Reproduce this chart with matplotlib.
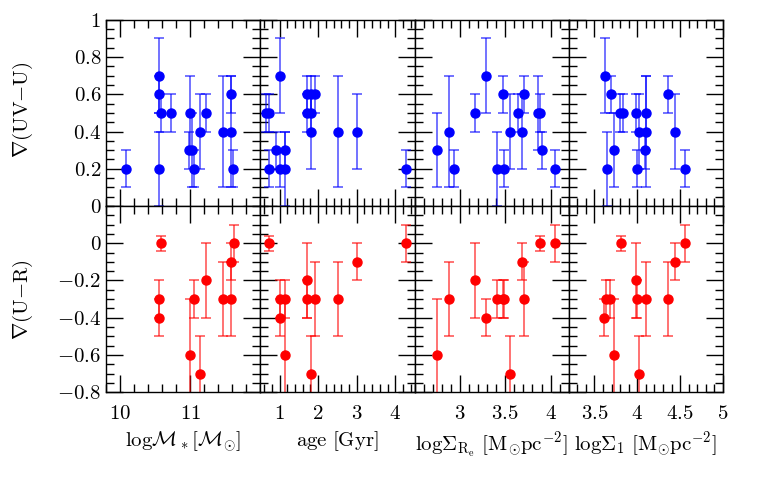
import matplotlib

matplotlib.use("Agg")
import matplotlib.pyplot as plt
from matplotlib.ticker import FixedLocator, FuncFormatter, MultipleLocator

plt.rcParams["font.family"] = "cmr10"
plt.rcParams["mathtext.fontset"] = "cm"
plt.rcParams["axes.unicode_minus"] = False

# log stellar mass panel
mass_uv = [10.09, 10.56, 10.56, 10.58, 10.56, 10.73, 11.0, 10.98, 11.02, 11.05, 11.14, 11.23, 11.47, 11.58, 11.58, 11.61]
mass_uv_grad = [0.2, 0.7, 0.6, 0.5, 0.2, 0.5, 0.5, 0.3, 0.3, 0.2, 0.4, 0.5, 0.4, 0.6, 0.4, 0.2]
mass_uv_err = [0.1, 0.2, 0.1, 0.1, 0.2, 0.1, 0.2, 0.1, 0.2, 0.1, 0.2, 0.1, 0.3, 0.1, 0.3, 0.1]
mass_ur = [10.58, 10.56, 10.56, 11.0, 11.06, 11.14, 11.23, 11.47, 11.58, 11.58, 11.62]
mass_ur_grad = [0.0, -0.3, -0.4, -0.6, -0.3, -0.7, -0.2, -0.3, -0.1, -0.3, 0.0]
mass_ur_err = [0.04, 0.1, 0.1, 0.3, 0.1, 0.2, 0.2, 0.2, 0.1, 0.2, 0.1]

# age panel
age_uv = [0.65, 0.73, 0.73, 0.91, 1.02, 1.02, 1.15, 1.15, 1.71, 1.71, 1.82, 1.82, 1.82, 1.91, 2.52, 3.01, 4.27]
age_uv_grad = [0.5, 0.5, 0.2, 0.3, 0.7, 0.2, 0.3, 0.2, 0.6, 0.5, 0.6, 0.5, 0.4, 0.6, 0.4, 0.4, 0.2]
age_uv_err = [0.1, 0.1, 0.1, 0.1, 0.2, 0.1, 0.1, 0.2, 0.1, 0.1, 0.1, 0.1, 0.2, 0.1, 0.3, 0.2, 0.1]
age_ur = [0.72, 1.02, 1.02, 1.15, 1.15, 1.71, 1.71, 1.82, 1.91, 2.52, 3.01, 4.27]
age_ur_grad = [0.0, -0.3, -0.4, -0.3, -0.6, -0.2, -0.3, -0.7, -0.3, -0.3, -0.1, 0.0]
age_ur_err = [0.04, 0.1, 0.1, 0.1, 0.3, 0.2, 0.1, 0.2, 0.2, 0.2, 0.1, 0.1]

# surface density within Re
sre_uv = [2.75, 2.88, 2.93, 3.17, 3.29, 3.41, 3.47, 3.49, 3.55, 3.64, 3.68, 3.71, 3.86, 3.88, 3.91, 4.05]
sre_uv_grad = [0.3, 0.4, 0.2, 0.5, 0.7, 0.2, 0.6, 0.2, 0.4, 0.5, 0.4, 0.6, 0.5, 0.5, 0.3, 0.2]
sre_uv_err = [0.2, 0.3, 0.1, 0.1, 0.2, 0.2, 0.1, 0.1, 0.2, 0.1, 0.2, 0.1, 0.2, 0.1, 0.1, 0.1]
sre_ur = [2.75, 2.88, 3.17, 3.29, 3.41, 3.47, 3.49, 3.55, 3.68, 3.71, 3.88, 4.05]
sre_ur_grad = [-0.6, -0.3, -0.2, -0.4, -0.3, -0.3, -0.3, -0.7, -0.1, -0.3, 0.0, 0.0]
sre_ur_err = [0.3, 0.2, 0.2, 0.1, 0.1, 0.1, 0.1, 0.2, 0.1, 0.2, 0.04, 0.1]

# surface density within 1 kpc
s1_uv = [3.62, 3.65, 3.69, 3.73, 3.80, 3.83, 3.98, 4.00, 4.02, 4.10, 4.10, 4.09, 4.36, 4.44, 4.56]
s1_uv_grad = [0.7, 0.2, 0.6, 0.3, 0.5, 0.5, 0.5, 0.2, 0.4, 0.5, 0.4, 0.3, 0.6, 0.4, 0.2]
s1_uv_err = [0.2, 0.2, 0.1, 0.2, 0.1, 0.1, 0.1, 0.1, 0.2, 0.2, 0.3, 0.1, 0.1, 0.2, 0.1]
s1_ur = [3.61, 3.64, 3.68, 3.73, 3.81, 3.98, 4.00, 4.02, 4.10, 4.36, 4.44, 4.56]
s1_ur_grad = [-0.4, -0.3, -0.3, -0.6, 0.0, -0.2, -0.3, -0.7, -0.3, -0.3, -0.1, 0.0]
s1_ur_err = [0.1, 0.1, 0.1, 0.3, 0.04, 0.2, 0.1, 0.2, 0.2, 0.2, 0.1, 0.1]

x_labels = [
    r"$\rm log\mathcal{M}_*[\mathcal{M}_{\!\odot}\!]$",
    r"$\rm age\ [Gyr]$",
    r"$\rm log\Sigma_{R_e}\ [M_{\!\odot}\!pc^{-2}]$",
    r"$\rm log\Sigma_1\ [M_{\!\odot}\!pc^{-2}]$",
]
x_limits = [(9.8, 12.0), (0.5, 4.5), (2.5, 4.2), (3.2, 5.0)]
x_major = [[10, 11], [1, 2, 3, 4], [3, 3.5, 4], [3.5, 4, 4.5, 5]]
x_minor = [0.2, 0.2, 0.1, 0.1]

columns = [
    (mass_uv, mass_uv_grad, mass_uv_err, mass_ur, mass_ur_grad, mass_ur_err),
    (age_uv, age_uv_grad, age_uv_err, age_ur, age_ur_grad, age_ur_err),
    (sre_uv, sre_uv_grad, sre_uv_err, sre_ur, sre_ur_grad, sre_ur_err),
    (s1_uv, s1_uv_grad, s1_uv_err, s1_ur, s1_ur_grad, s1_ur_err),
]


def tick_text(value, _pos):
    return f"${value:g}$"


def draw(ax, x, y, err, color):
    ax.errorbar(x, y, yerr=err, fmt="none", ecolor=color, alpha=0.7,
                elinewidth=1.1, capsize=3.8, capthick=1.1)
    ax.plot(x, y, "o", color=color, markersize=6.5, zorder=3)


fig, axes = plt.subplots(2, 4, figsize=(7.63, 4.97), dpi=100)
fig.subplots_adjust(left=0.139, right=0.9476, top=0.960, bottom=0.211, wspace=0, hspace=0)

for col, data in enumerate(columns):
    top_ax, bot_ax = axes[0, col], axes[1, col]
    draw(top_ax, data[0], data[1], data[2], "blue")
    draw(bot_ax, data[3], data[4], data[5], "red")

    top_ax.set_ylim(0, 1)
    bot_ax.set_ylim(-0.8, 0.2)
    top_ax.yaxis.set_major_locator(FixedLocator([0, 0.2, 0.4, 0.6, 0.8, 1.0]))
    bot_ax.yaxis.set_major_locator(FixedLocator([-0.8, -0.6, -0.4, -0.2, 0.0]))
    for ax in (top_ax, bot_ax):
        ax.set_xlim(*x_limits[col])
        ax.xaxis.set_major_locator(FixedLocator(x_major[col]))
        ax.xaxis.set_minor_locator(MultipleLocator(x_minor[col]))
        ax.yaxis.set_minor_locator(MultipleLocator(0.05))
        ax.tick_params(which="both", direction="in", top=True, right=True, width=1.0)
        ax.tick_params(which="major", length=12)
        ax.tick_params(which="minor", length=6)
        ax.tick_params(labelsize=15)
        ax.xaxis.set_major_formatter(FuncFormatter(tick_text))
        ax.yaxis.set_major_formatter(FuncFormatter(tick_text))
        for spine in ax.spines.values():
            spine.set_linewidth(1.0)
        if col > 0:
            ax.tick_params(labelleft=False)
    top_ax.tick_params(labelbottom=False)
    bot_ax.tick_params(axis="x", pad=9)
    bot_ax.set_xlabel(x_labels[col], fontsize=15, labelpad=5)

fig.text(23 / 763, 1 - 110 / 497, r"$\nabla$(UV$-$U)", rotation=90, ha="center", va="center", fontsize=15)
fig.text(23 / 763, 1 - 300 / 497, r"$\nabla$(U$-$R)", rotation=90, ha="center", va="center", fontsize=15)

fig.savefig("out.png", dpi=100)
